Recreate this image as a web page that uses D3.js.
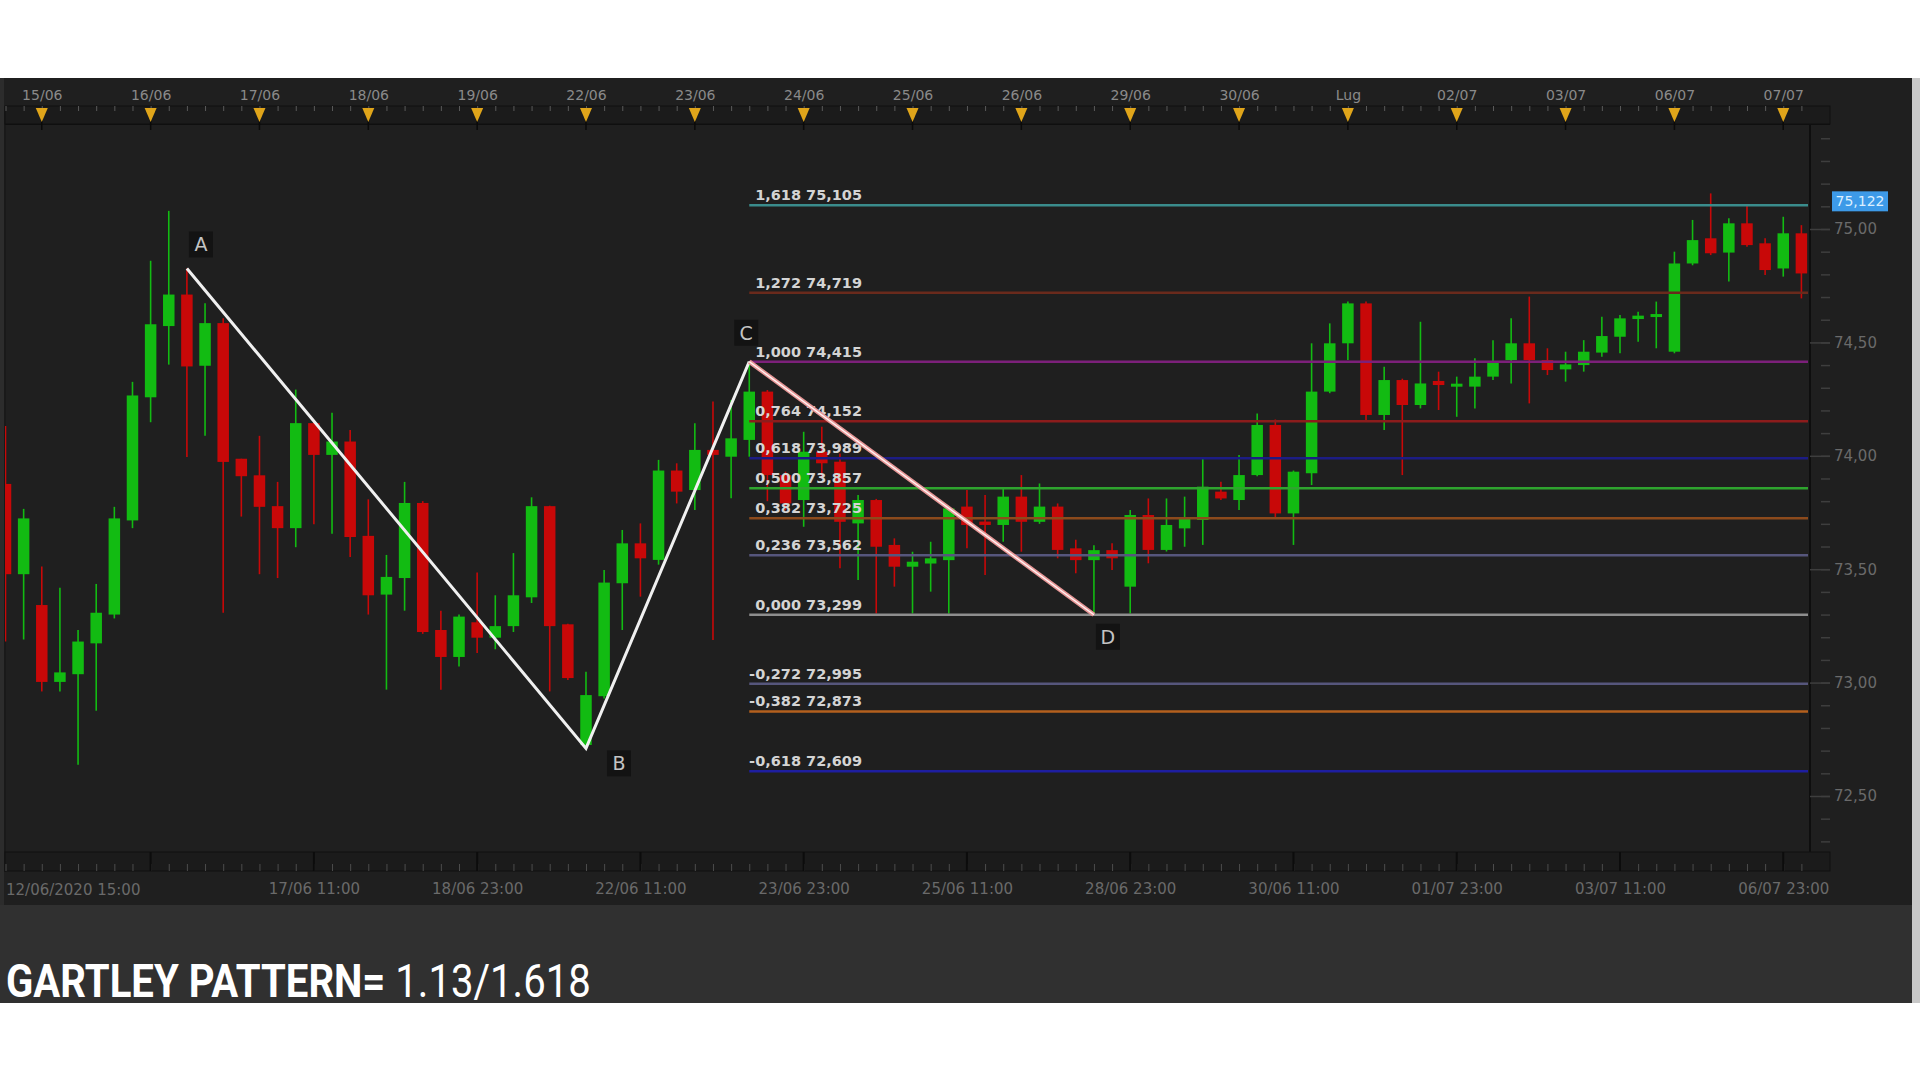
<!DOCTYPE html>
<html><head><meta charset="utf-8">
<script src="https://cdn.jsdelivr.net/npm/d3@7"></script>
<style>html,body{margin:0;padding:0;background:#fff;overflow:hidden}svg{display:block}</style>
</head><body>
<svg id="chart" width="1920" height="1080"></svg>
<script>
// ---------------- DATA ----------------
const opens  = [73.876,73.478,73.342,73.003,73.037,73.173,73.300,73.715,74.258,74.572,
                74.711,74.397,74.585,73.987,73.914,73.778,73.681,74.144,74.004,74.063,
                73.647,73.388,73.461,73.792,73.232,73.113,73.266,73.198,73.249,73.376,
                73.778,73.257,72.725,72.940,73.438,73.614,73.541,73.935,73.849,74.026,
                73.996,74.070,74.283,73.915,73.805,74.018,73.974,73.702,73.805,73.607,
                73.511,73.525,73.540,73.776,73.710,73.695,73.820,73.709,73.776,73.592,
                73.540,73.584,73.423,73.739,73.585,73.680,73.717,73.842,73.805,73.915,
                74.136,73.746,73.923,74.283,74.496,74.672,74.180,74.334,74.224,74.330,
                74.310,74.305,74.349,74.422,74.496,74.422,74.381,74.400,74.455,74.525,
                74.603,74.613,74.459,74.848,74.959,74.896,75.025,74.937,74.826,74.981];
const highs  = [74.131,73.766,73.512,73.418,73.232,73.435,73.775,74.326,74.860,75.080,
                74.826,74.673,74.606,73.987,74.088,73.885,74.292,74.150,74.190,74.114,
                73.808,73.563,73.885,73.800,73.317,73.300,73.486,73.385,73.571,73.817,
                73.780,73.260,73.048,73.497,73.673,73.702,73.982,73.967,74.143,74.239,
                74.246,74.415,74.290,73.930,74.106,74.128,74.010,73.827,73.810,73.636,
                73.577,73.621,73.776,73.849,73.827,73.856,73.915,73.878,73.790,73.630,
                73.606,73.614,73.761,73.812,73.812,73.820,73.989,73.886,74.003,74.187,
                74.160,73.935,74.496,74.584,74.680,74.680,74.393,74.340,74.591,74.371,
                74.349,74.430,74.510,74.606,74.702,74.474,74.459,74.510,74.613,74.621,
                74.635,74.680,74.900,75.040,75.157,75.047,75.106,74.959,75.054,75.017];
const lows   = [73.181,73.190,72.961,72.961,72.638,72.876,73.283,73.681,74.148,74.402,
                73.995,74.088,73.308,73.732,73.478,73.461,73.597,73.698,73.656,73.554,
                73.300,72.969,73.317,73.215,72.969,73.071,73.130,73.147,73.223,73.351,
                72.961,73.012,72.710,72.930,73.232,73.379,73.520,73.790,73.761,73.188,
                73.813,73.996,73.800,73.760,73.687,73.900,73.504,73.452,73.305,73.423,
                73.305,73.401,73.305,73.592,73.474,73.621,73.577,73.700,73.548,73.482,
                73.299,73.497,73.305,73.526,73.578,73.599,73.607,73.805,73.761,73.910,
                73.730,73.607,73.871,74.276,74.422,74.158,74.114,73.915,74.209,74.202,
                74.172,74.209,74.334,74.319,74.231,74.356,74.327,74.371,74.437,74.452,
                74.503,74.474,74.452,74.840,74.885,74.768,74.922,74.797,74.790,74.694];
const closes = [73.478,73.724,73.003,73.045,73.181,73.308,73.724,74.266,74.580,74.711,
                74.394,74.585,73.973,73.910,73.775,73.681,74.144,74.004,74.063,73.642,
                73.385,73.466,73.792,73.223,73.113,73.291,73.198,73.249,73.385,73.778,
                73.249,73.020,72.945,73.441,73.614,73.548,73.935,73.842,74.026,74.004,
                74.077,74.283,73.915,73.790,74.018,73.967,73.709,73.805,73.599,73.511,
                73.533,73.548,73.768,73.695,73.695,73.820,73.709,73.776,73.585,73.540,
                73.584,73.548,73.739,73.585,73.695,73.724,73.864,73.812,73.915,74.136,
                73.746,73.930,74.283,74.496,74.672,74.180,74.334,74.224,74.319,74.312,
                74.318,74.349,74.410,74.496,74.422,74.378,74.403,74.459,74.528,74.606,
                74.618,74.625,74.848,74.951,74.893,75.025,74.929,74.819,74.981,74.804];

const topDayIdx    = [2,8,14,20,26,32,38,44,50,56,62,68,74,80,86,92,98];
const topDayLabels = ["15/06","16/06","17/06","18/06","19/06","22/06","23/06","24/06","25/06",
                      "26/06","29/06","30/06","Lug","02/07","03/07","06/07","07/07"];
const bottomIdx    = [0,17,26,35,44,53,62,71,80,89,98];
const bottomLabels = ["12/06/2020 15:00","17/06 11:00","18/06 23:00","22/06 11:00","23/06 23:00",
                      "25/06 11:00","28/06 23:00","30/06 11:00","01/07 23:00","03/07 11:00","06/07 23:00"];
const majorGridIdx = [8,17,26,35,44,53,62,71,80,89,98];

const fibRatios = [1.618,1.272,1.000,0.764,0.618,0.500,0.382,0.236,0.000,-0.272,-0.382,-0.618];
const fibPrices = [75.105,74.719,74.415,74.152,73.989,73.857,73.725,73.562,73.299,72.995,72.873,72.609];
const fibStartIdx = 41;

const patternNames  = ["A","B","C","D"];
const patternIdx    = [10,32,41,60];
const patternPrices = [74.826,72.710,74.415,73.299];

const priceTicks = [72.5,73.0,73.5,74.0,74.5,75.0];
const lastPrice = 75.122;

const titleBold = "GARTLEY PATTERN=";
const titleRest = " 1.13/1.618";

// ---------------- STYLE ----------------
const fibColors = ["#3a8c8c","#6a2a1c","#7c207a","#8c1c1c","#1c1c84","#2ea42e",
                   "#8c4a1c","#56567c","#8e8e8e","#56567c","#b4601e","#1e1ea0"];
const labelOffsets = [[14,-24],[33,15],[-3,-29],[14,22]];
const UP = "#12bb12", DOWN = "#c80808";

// ---------------- LAYOUT ----------------
const svg = d3.select("#chart");
const plot = {left:5, right:1810, top:124, bottom:852};

const x = d3.scaleLinear().domain([0, opens.length - 1]).range([5.5, 1801.4]);
const y = d3.scaleLinear().domain([72.5, 75.0]).range([796, 229]);

// backgrounds
svg.append("rect").attr("x",0).attr("y",0).attr("width",1920).attr("height",1080).attr("fill","#ffffff");
svg.append("rect").attr("x",0).attr("y",78).attr("width",1912).attr("height",827).attr("fill","#1f1f1f");
svg.append("rect").attr("x",0).attr("y",78).attr("width",4).attr("height",827).attr("fill","#2c2c2c");
svg.append("rect").attr("x",1912).attr("y",78).attr("width",8).attr("height",925).attr("fill","#c8c8c8");
svg.append("rect").attr("x",0).attr("y",905).attr("width",1912).attr("height",98).attr("fill","#303030");

// plot frame
svg.append("line").attr("x1",plot.left).attr("x2",1830).attr("y1",plot.top).attr("y2",plot.top)
  .attr("stroke","#0e0e0e").attr("stroke-width",2);
svg.append("line").attr("x1",plot.right).attr("x2",plot.right).attr("y1",plot.top).attr("y2",plot.bottom)
  .attr("stroke","#0e0e0e").attr("stroke-width",2);
svg.append("line").attr("x1",plot.left).attr("x2",plot.left).attr("y1",106).attr("y2",872)
  .attr("stroke","#141414").attr("stroke-width",1);

// ---------- top axis band ----------
svg.append("rect").attr("x",plot.left).attr("y",106).attr("width",1825).attr("height",18)
  .attr("fill","#1b1b1b").attr("stroke","#111").attr("stroke-width",1);
const topMinor = svg.append("g").attr("transform","translate(0,106)")
  .call(d3.axisBottom(x).tickValues(d3.range(0, opens.length)).tickSize(5).tickFormat(""));
topMinor.select(".domain").remove();
topMinor.selectAll("line").attr("stroke","#5a5a5a");

const topLab = svg.append("g").attr("transform","translate(0,100)")
  .call(d3.axisTop(x).tickValues(topDayIdx).tickSize(0).tickPadding(0)
        .tickFormat(d => topDayLabels[topDayIdx.indexOf(d)]));
topLab.select(".domain").remove();
topLab.selectAll("text").attr("fill","#8a8a8a").attr("font-family","DejaVu Sans")
  .attr("font-size",14).attr("dy","0");

svg.append("g").selectAll("line").data(topDayIdx).join("line")
  .attr("x1",d=>x(d)).attr("x2",d=>x(d)).attr("y1",118).attr("y2",130)
  .attr("stroke","#0a0a0a").attr("stroke-width",1.5);
svg.append("g").selectAll("path").data(topDayIdx).join("path")
  .attr("d",d=>`M${x(d)-6},108 L${x(d)+6},108 L${x(d)},122 Z`)
  .attr("fill","#e0a51a");

// ---------- bottom axis band ----------
svg.append("rect").attr("x",plot.left).attr("y",852).attr("width",1825).attr("height",19)
  .attr("fill","#1b1b1b").attr("stroke","#111").attr("stroke-width",1);
const botMinor = svg.append("g").attr("transform","translate(0,871)")
  .call(d3.axisTop(x).tickValues(d3.range(0, opens.length)).tickSize(7).tickFormat(""));
botMinor.select(".domain").remove();
botMinor.selectAll("line").attr("stroke","#4c4c4c");
svg.append("g").selectAll("line").data(majorGridIdx).join("line")
  .attr("x1",d=>x(d)).attr("x2",d=>x(d)).attr("y1",852).attr("y2",871)
  .attr("stroke","#0c0c0c").attr("stroke-width",2);

const botLab = svg.append("g").attr("transform","translate(0,872)")
  .call(d3.axisBottom(x).tickValues(bottomIdx.slice(1)).tickSize(0).tickPadding(11)
        .tickFormat(d => bottomLabels[bottomIdx.indexOf(d)]));
botLab.select(".domain").remove();
botLab.selectAll("text").attr("fill","#6a6a6a").attr("font-family","DejaVu Sans").attr("font-size",15);
svg.append("text").attr("x",6).attr("y",895).text(bottomLabels[0])
  .attr("fill","#6a6a6a").attr("font-family","DejaVu Sans").attr("font-size",15);

// ---------- right price axis ----------
const minorTicks = d3.range(72.3, 75.46, 0.1).map(v => +v.toFixed(2));
const rMinor = svg.append("g").attr("transform","translate(1830,0)")
  .call(d3.axisLeft(y).tickValues(minorTicks).tickSize(9).tickFormat(""));
rMinor.select(".domain").remove();
rMinor.selectAll("line").attr("stroke","#3e3e3e").attr("stroke-width",1.5);
const rMajor = svg.append("g").attr("transform","translate(1830,0)")
  .call(d3.axisLeft(y).tickValues(priceTicks).tickSize(20).tickFormat(""));
rMajor.select(".domain").remove();
rMajor.selectAll("line").attr("stroke","#3e3e3e").attr("stroke-width",1.5);
const rLab = svg.append("g").attr("transform","translate(1830,0)")
  .call(d3.axisRight(y).tickValues(priceTicks).tickSize(0).tickPadding(4)
        .tickFormat(d => d.toFixed(2).replace(".",",")));
rLab.select(".domain").remove();
rLab.selectAll("text").attr("fill","#6a6a6a").attr("font-family","DejaVu Sans").attr("font-size",15);

// last price box
svg.append("rect").attr("x",1832).attr("y",y(lastPrice)-10).attr("width",56).attr("height",20)
  .attr("fill","#3d9ae8");
svg.append("text").attr("x",1860).attr("y",y(lastPrice)+5).attr("text-anchor","middle")
  .attr("fill","#dcefff").attr("font-family","DejaVu Sans").attr("font-size",14)
  .text(lastPrice.toFixed(3).replace(".",","));

// ---------- candles ----------
svg.append("clipPath").attr("id","clip").append("rect")
  .attr("x",plot.left).attr("y",plot.top).attr("width",plot.right-plot.left).attr("height",plot.bottom-plot.top);
const cg = svg.append("g").attr("clip-path","url(#clip)");
const idx = d3.range(opens.length);
const bw = 11.5;
cg.selectAll("line.wick").data(idx).join("line").attr("class","wick")
  .attr("x1",i=>x(i)).attr("x2",i=>x(i)).attr("y1",i=>y(highs[i])).attr("y2",i=>y(lows[i]))
  .attr("stroke",i=>closes[i]>=opens[i]?UP:DOWN).attr("stroke-width",1.6);
cg.selectAll("rect.body").data(idx).join("rect").attr("class","body")
  .attr("x",i=>x(i)-bw/2).attr("width",bw)
  .attr("y",i=>y(Math.max(opens[i],closes[i])))
  .attr("height",i=>Math.max(3, Math.abs(y(opens[i])-y(closes[i]))))
  .attr("fill",i=>closes[i]>=opens[i]?UP:DOWN);

// ---------- fibonacci levels ----------
const fg = svg.append("g");
fg.selectAll("line").data(fibPrices).join("line")
  .attr("x1",x(fibStartIdx)).attr("x2",plot.right-2)
  .attr("y1",d=>y(d)).attr("y2",d=>y(d))
  .attr("stroke",(d,i)=>fibColors[i]).attr("stroke-width",2.5);
const fmtR = r => (r<0?"-":"") + Math.abs(r).toFixed(3).replace(".",",");
fg.selectAll("text").data(fibPrices).join("text")
  .attr("x",862).attr("y",d=>y(d)-5).attr("text-anchor","end")
  .attr("fill","#d4d4d4").attr("font-family","DejaVu Sans").attr("font-weight","bold").attr("font-size",14.5)
  .text((d,i)=>fmtR(fibRatios[i]) + " " + d.toFixed(3).replace(".",","));

// ---------- pattern lines ----------
const pts = patternIdx.map((d,i)=>[x(d), y(patternPrices[i])]);
const line = d3.line();
svg.append("path").attr("d",line(pts.slice(0,3))).attr("fill","none")
  .attr("stroke","#f0f0f0").attr("stroke-width",3).attr("stroke-linejoin","miter");
svg.append("path").attr("d",line(pts.slice(2,4))).attr("fill","none")
  .attr("stroke","#e89898").attr("stroke-width",4.5);
svg.append("path").attr("d",line(pts.slice(2,4))).attr("fill","none")
  .attr("stroke","#fff2f2").attr("stroke-width",1.4);

const lg = svg.append("g").selectAll("g").data(patternNames).join("g")
  .attr("transform",(d,i)=>`translate(${pts[i][0]+labelOffsets[i][0]},${pts[i][1]+labelOffsets[i][1]})`);
lg.append("rect").attr("x",-12).attr("y",-13).attr("width",24).attr("height",26)
  .attr("fill","#121212").attr("opacity",0.9);
lg.append("text").attr("text-anchor","middle").attr("dy","0.36em")
  .attr("fill","#c4c4c4").attr("font-family","DejaVu Sans").attr("font-size",19).text(d=>d);

// ---------- title ----------
const title = svg.append("text").attr("font-family","Roboto").attr("font-size",46).attr("fill","#ffffff");
title.append("tspan").attr("font-weight","bold").text(titleBold);
title.append("tspan").attr("font-weight","normal").text(titleRest);
const tw = title.node().getBBox().width;
title.attr("transform",`translate(6,997) scale(${585/tw},1)`);
</script>
</body></html>
